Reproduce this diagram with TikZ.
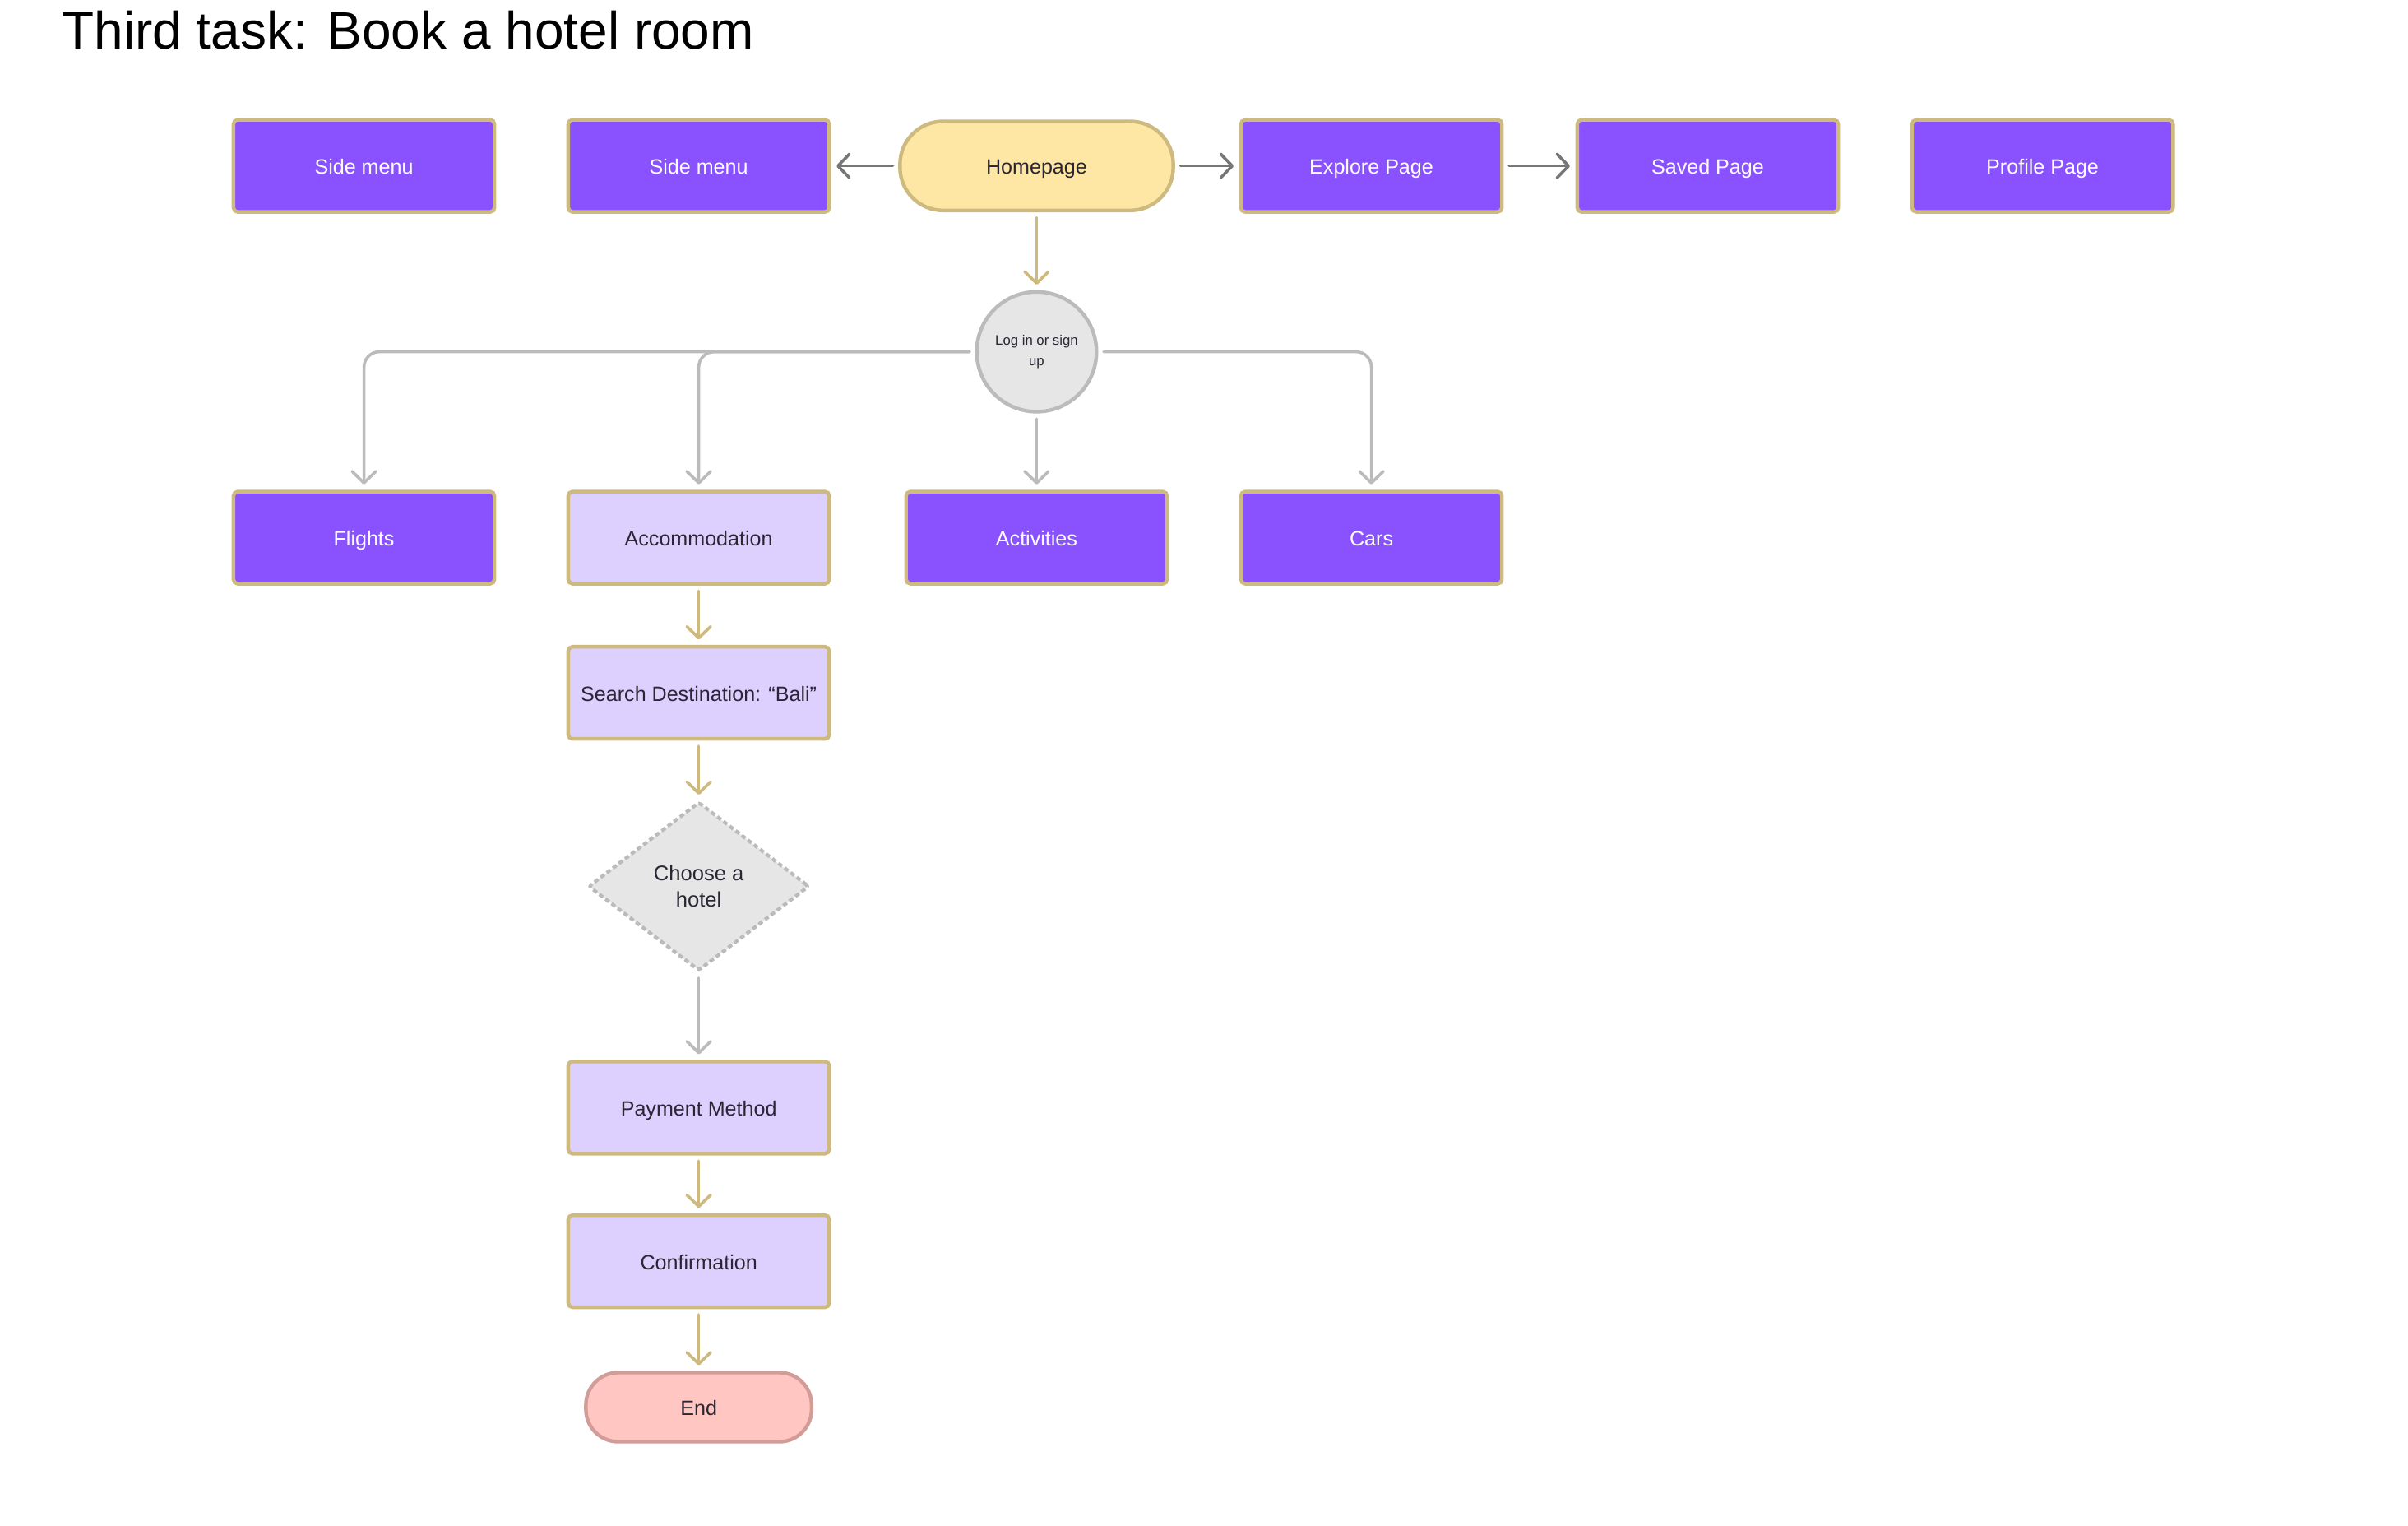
\documentclass[tikz,border=0pt]{standalone}
\usepackage{fontspec}
\setmainfont{Liberation Sans}
\usetikzlibrary{arrows.meta,shapes.geometric}
\definecolor{flowPurple}{HTML}{8A51FF}
\definecolor{flowLilac}{HTML}{DDCFFE}
\definecolor{flowGold}{HTML}{CEB97F}
\definecolor{flowCream}{HTML}{FEE7A5}
\definecolor{flowGrey}{HTML}{E6E6E6}
\definecolor{flowRule}{HTML}{BBBBBB}
\definecolor{flowDark}{HTML}{777777}
\definecolor{flowPink}{HTML}{FFC6C2}
\definecolor{flowRose}{HTML}{D29C98}
\definecolor{flowInk}{HTML}{2A2633}
\tikzset{
  ftitle/.style={font=\fontsize{19.5}{22}\selectfont, text=black,
    anchor=base west, inner sep=0pt},
  fbody/.style={font=\fontsize{7.65}{9.6}\selectfont, align=center,
    text height=1.6ex, text depth=0.45ex},
  fpanel/.style={rectangle, rounded corners=1.6pt, line width=1.35pt,
    draw=flowGold, minimum width=3.4cm, minimum height=1.2cm, fbody},
  fflow/.style={-{Straight Barb[length=1.5mm,width=3.1mm,round]},
    line width=1.1pt, line cap=round, shorten <=0.07cm, shorten >=0.07cm}
}

\begin{document}
\begin{tikzpicture}[x=0.02cm, y=-0.02cm,
  page/.style={fpanel, fill=flowPurple, text=white},
  task/.style={fpanel, fill=flowLilac, text=flowInk},
  home/.style={fpanel, fill=flowCream, text=flowInk, minimum width=3.56cm,
    minimum height=1.16cm, rounded corners=0.56cm},
  gate/.style={circle, draw=flowRule, fill=flowGrey, line width=1.35pt,
    minimum size=1.56cm, inner sep=0pt, text=flowInk,
    font=\fontsize{5.1}{7.4}\selectfont, align=center},
  choice/.style={diamond, draw=flowRule, fill=flowGrey, line width=1.3pt,
    dash pattern=on 0.06cm off 0.04cm, rounded corners=1pt, aspect=1.31,
    minimum width=2.88cm, minimum height=2.2cm, inner sep=0pt,
    text=flowInk, font=\fontsize{7.8}{9.6}\selectfont, align=center},
  endcap/.style={fpanel, fill=flowPink, draw=flowRose, text=flowInk,
    minimum width=2.94cm, minimum height=0.9cm, rounded corners=0.42cm},
  navflow/.style={fflow, draw=flowDark},
  goldflow/.style={fflow, draw=flowGold},
  greyflow/.style={fflow, draw=flowRule, rounded corners=0.2cm}
]
\path[use as bounding box] (0,0) rectangle (1568,993);

\node[ftitle] (title) at (40,32) {Third task: Book a hotel room};

% top row
\node[page] (side1) at (237,108) {Side menu};
\node[page] (side2) at (455,108) {Side menu};
\node[home] (home) at (675,108) {Homepage};
\node[page] (explore) at (893,108) {Explore Page};
\node[page] (saved) at (1112,108) {Saved Page};
\node[page] (profile) at (1330,108) {Profile Page};

\node[gate] (login) at (675,229) {Log in or sign\\up};

% categories
\node[page] (flights) at (237,350) {Flights};
\node[task] (accom) at (455,350) {Accommodation};
\node[page] (activities) at (675,350) {Activities};
\node[page] (cars) at (893,350) {Cars};

% booking path
\node[task] (search) at (455,451) {Search Destination: “Bali”};
\node[choice] (hotel) at (455,577) {Choose a\\hotel};
\node[task] (payment) at (455,721) {Payment Method};
\node[task] (confirm) at (455,821) {Confirmation};
\node[endcap] (end) at (455,916) {End};

\draw[navflow] (home) -- (side2);
\draw[navflow] (home) -- (explore);
\draw[navflow] (explore) -- (saved);
\draw[goldflow] (home) -- (login);

\draw[greyflow] (login.west) -| (flights.north);
\draw[greyflow] (login.west) -| (accom.north);
\draw[greyflow] (login) -- (activities);
\draw[greyflow] (login.east) -| (cars.north);

\draw[goldflow] (accom) -- (search);
\draw[goldflow] (search) -- (hotel);
\draw[greyflow] (hotel) -- (payment);
\draw[goldflow] (payment) -- (confirm);
\draw[goldflow] (confirm) -- (end);
\end{tikzpicture}
\end{document}
